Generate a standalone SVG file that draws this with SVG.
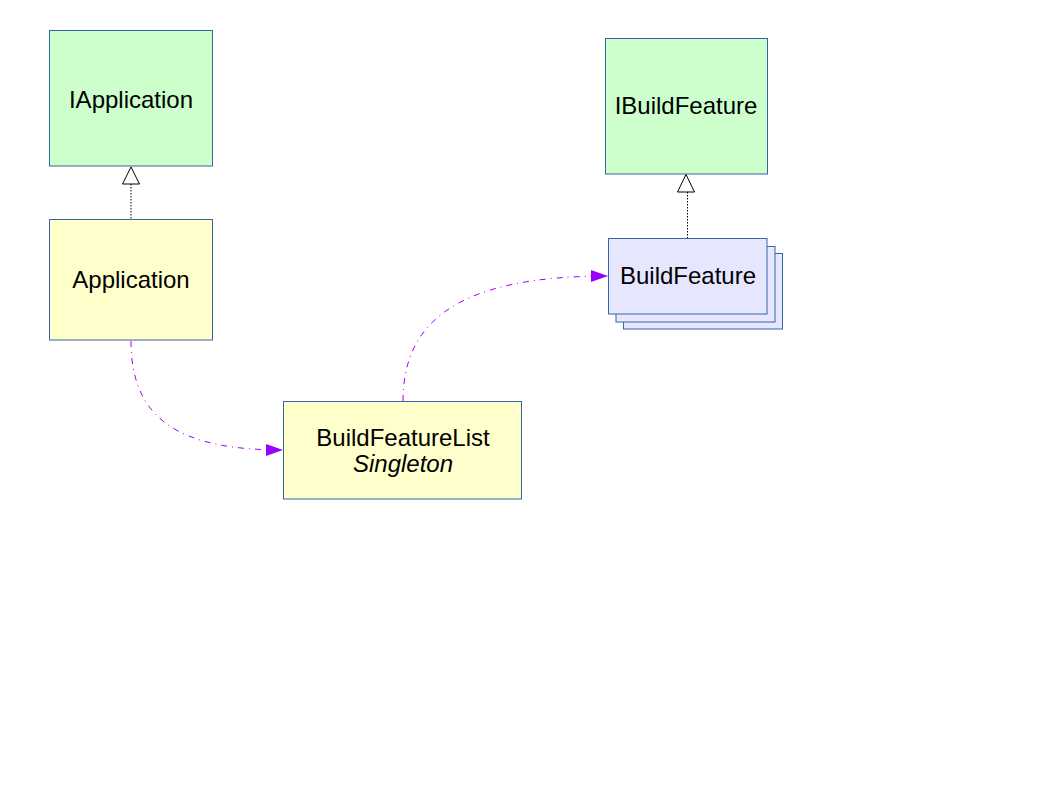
<svg xmlns="http://www.w3.org/2000/svg" width="1058" height="794" viewBox="0 0 1058 794">
<style>
.box{stroke:#3465a4;stroke-width:1}
.g{fill:#ccffcc}
.y{fill:#ffffcc}
.b{fill:#e6e6ff}
text{font-family:"Liberation Sans",Arial,sans-serif;font-size:24px;fill:#000;text-anchor:middle}
.gen{fill:none;stroke:#000;stroke-width:1;stroke-dasharray:1.5,1.5}
.tri{fill:#fff;stroke:#000;stroke-width:1}
.dep{fill:none;stroke:#9900ff;stroke-width:1;stroke-dasharray:6,5,1,5}
</style>
<defs>
<marker id="ah" markerWidth="17" markerHeight="12" refX="17" refY="6" orient="auto" markerUnits="userSpaceOnUse">
<path d="M0,0 L17,6 L0,12 Z" fill="#9900ff"/>
</marker>
</defs>
<rect width="1058" height="794" fill="#fff"/>
<g id="IApplication">
<rect class="box g" x="49.5" y="30.5" width="163" height="135.5"/>
<text x="131" y="107.5">IApplication</text>
</g>
<g id="Application">
<rect class="box y" x="49.5" y="219.5" width="163" height="120.5"/>
<text x="131" y="288">Application</text>
</g>
<g id="IBuildFeature">
<rect class="box g" x="605.5" y="38.5" width="162" height="135.5"/>
<text x="686" y="114">IBuildFeature</text>
</g>
<g id="BuildFeature">
<rect class="box b" x="623.5" y="253.5" width="159" height="75.5"/>
<rect class="box b" x="616" y="246.5" width="159" height="75.5"/>
<rect class="box b" x="608.5" y="238.5" width="158.5" height="75.5"/>
<text x="688" y="284">BuildFeature</text>
</g>
<g id="BuildFeatureList">
<rect class="box y" x="283.5" y="401.5" width="238" height="97.5"/>
<text x="403" y="446">BuildFeatureList</text>
<text x="403" y="472" font-style="italic">Singleton</text>
</g>
<g id="connectors">
<line class="gen" x1="131" y1="184" x2="131" y2="219"/>
<path class="tri" d="M131,167 L139.5,184 L122.5,184 Z"/>
<line class="gen" x1="687.5" y1="192" x2="687.5" y2="238"/>
<path class="tri" d="M686,174.5 L694.5,192 L677.5,192 Z"/>
<path class="dep" d="M131,341 C131,420 180,450 283,450" marker-end="url(#ah)"/>
<path class="dep" d="M403,401 C403,320 460,276 608,276" marker-end="url(#ah)"/>
</g>
</svg>
